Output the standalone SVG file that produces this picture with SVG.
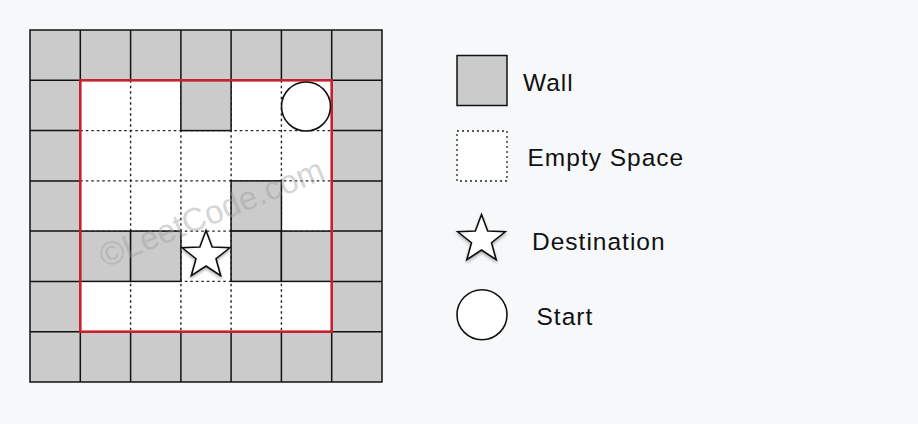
<svg xmlns="http://www.w3.org/2000/svg" width="918" height="424" viewBox="0 0 918 424">
  <style>
    .wall { fill: #cbcbcb; stroke: #111; stroke-width: 1.5; }
    .empty { fill: #ffffff; }
    .dot { stroke: #222; stroke-width: 1.4; stroke-dasharray: 2.5 3; fill: none; }
    .shape { fill: #ffffff; stroke: #111; stroke-width: 1.6; }
    .lbl { font-family: "Liberation Sans", Arial, sans-serif; font-size: 24.5px; fill: #111; letter-spacing: 1px; }
    .wm { font-family: "Liberation Sans", Arial, sans-serif; font-size: 33px; fill: #9a9a9a; fill-opacity: 0.42; }
  </style>
  <defs>
    <path id="star" d="M0,-25 L6.17,-8.49 L23.78,-7.73 L9.99,3.24 L14.69,20.23 L0,10.5 L-14.69,20.23 L-9.99,3.24 L-23.78,-7.73 L-6.17,-8.49 Z"/>
    <filter id="sh" x="-30%" y="-30%" width="160%" height="170%">
      <feDropShadow dx="0" dy="2" stdDeviation="1.5" flood-color="#000" flood-opacity="0.3"/>
    </filter>
  </defs>
  <rect x="0" y="0" width="918" height="424" fill="#f7f8fa"/>

  <g id="grid">
    <rect class="wall" x="30" y="30" width="352" height="352"/>
    <g stroke="#111" stroke-width="1.5">
      <line x1="80.3" y1="30" x2="80.3" y2="382"/>
      <line x1="130.6" y1="30" x2="130.6" y2="80.3"/>
      <line x1="180.9" y1="30" x2="180.9" y2="80.3"/>
      <line x1="231.1" y1="30" x2="231.1" y2="80.3"/>
      <line x1="281.4" y1="30" x2="281.4" y2="80.3"/>
      <line x1="331.7" y1="30" x2="331.7" y2="382"/>
      <line x1="130.6" y1="331.7" x2="130.6" y2="382"/>
      <line x1="180.9" y1="331.7" x2="180.9" y2="382"/>
      <line x1="231.1" y1="331.7" x2="231.1" y2="382"/>
      <line x1="281.4" y1="331.7" x2="281.4" y2="382"/>
      <line x1="30" y1="80.3" x2="382" y2="80.3"/>
      <line x1="30" y1="331.7" x2="382" y2="331.7"/>
      <line x1="30" y1="130.6" x2="80.3" y2="130.6"/>
      <line x1="30" y1="180.9" x2="80.3" y2="180.9"/>
      <line x1="30" y1="231.1" x2="80.3" y2="231.1"/>
      <line x1="30" y1="281.4" x2="80.3" y2="281.4"/>
      <line x1="331.7" y1="130.6" x2="382" y2="130.6"/>
      <line x1="331.7" y1="180.9" x2="382" y2="180.9"/>
      <line x1="331.7" y1="231.1" x2="382" y2="231.1"/>
      <line x1="331.7" y1="281.4" x2="382" y2="281.4"/>
    </g>
    <rect class="empty" x="80.3" y="80.3" width="251.4" height="251.4"/>
    <g class="dot">
      <line x1="130.6" y1="80.3" x2="130.6" y2="331.7"/>
      <line x1="180.9" y1="80.3" x2="180.9" y2="331.7"/>
      <line x1="231.1" y1="80.3" x2="231.1" y2="331.7"/>
      <line x1="281.4" y1="80.3" x2="281.4" y2="331.7"/>
      <line x1="80.3" y1="130.6" x2="331.7" y2="130.6"/>
      <line x1="80.3" y1="180.9" x2="331.7" y2="180.9"/>
      <line x1="80.3" y1="231.1" x2="331.7" y2="231.1"/>
      <line x1="80.3" y1="281.4" x2="331.7" y2="281.4"/>
    </g>
    <rect class="wall" x="180.9" y="80.3" width="50.2" height="50.3"/>
    <rect class="wall" x="231.1" y="180.9" width="50.3" height="50.2"/>
    <rect class="wall" x="80.3" y="231.1" width="50.3" height="50.3"/>
    <rect class="wall" x="130.6" y="231.1" width="50.3" height="50.3"/>
    <rect class="wall" x="231.1" y="231.1" width="50.3" height="50.3"/>
    <rect class="wall" x="281.4" y="231.1" width="50.3" height="50.3"/>
    <rect x="80.3" y="80.3" width="251.4" height="251.4" fill="none" stroke="#c8202f" stroke-width="2.6"/>
  </g>

  <text class="wm" transform="translate(105,268) rotate(-22)">©LeetCode.com</text>

  <g id="start-node">
    <circle class="shape" cx="306" cy="106.5" r="24.5"/>
  </g>
  <g id="destination-node">
    <use href="#star" class="shape" transform="translate(206,255.5)" filter="url(#sh)"/>
  </g>

  <g id="legend-wall">
    <rect class="wall" x="457" y="55.5" width="50" height="50"/>
    <text class="lbl" x="523" y="91">Wall</text>
  </g>
  <g id="legend-empty">
    <rect x="457" y="131" width="50" height="50" fill="#ffffff" stroke="#222" stroke-width="1.3" stroke-dasharray="2 3"/>
    <text class="lbl" x="527.5" y="165.5">Empty Space</text>
  </g>
  <g id="legend-destination">
    <use href="#star" class="shape" transform="translate(481.5,239.5)" filter="url(#sh)"/>
    <text class="lbl" x="532" y="249.5">Destination</text>
  </g>
  <g id="legend-start">
    <circle class="shape" cx="482" cy="314.7" r="25"/>
    <text class="lbl" x="536.5" y="325">Start</text>
  </g>
  <g id="connectors"/>
</svg>
